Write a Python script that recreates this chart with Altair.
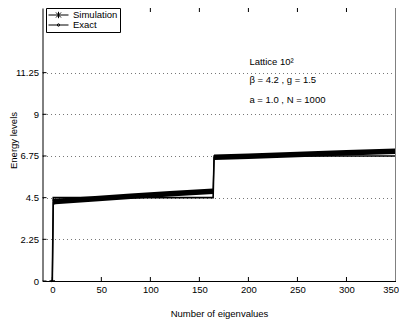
import altair as alt
import pandas as pd

# ---------------- data ----------------
series_names = ["Simulation", "Exact"]

sim_x = [0, 1, 3, 40, 80, 120, 164, 165, 200, 250, 300, 350]
sim_y = [0.0, 4.25, 4.29, 4.43, 4.57, 4.71, 4.85, 6.68, 6.74, 6.83, 6.92, 7.00]

exact_x = [0, 1, 164, 165, 350]
exact_y = [0.0, 4.5, 4.5, 6.75, 6.75]

x_ticks = [0, 50, 100, 150, 200, 250, 300, 350]
y_ticks = [0, 2.25, 4.5, 6.75, 9, 11.25]

x_range = [-10, 350]
y_range = [0, 14.74]

ann_x = [201, 201, 201]
ann_y = [11.85, 10.83, 9.77]
ann_text = ["Lattice 10²", "β = 4.2 , g = 1.5", "a = 1.0 , N = 1000"]

last_low_index = 164

# ---------------- styling ----------------
FONT = "Liberation Sans"
FS = 9.5
W, H = 353, 273
TICK = 4

sim_df = pd.DataFrame({"x": sim_x, "y": sim_y})
sim_df["segment"] = ["low" if v <= last_low_index else "high" for v in sim_x]
band_df = sim_df[sim_df["x"] > 0]
exact_df = pd.DataFrame({"x": exact_x, "y": exact_y})
xt_df = pd.DataFrame({"x": x_ticks})
yt_df = pd.DataFrame({"y": y_ticks})
ann_df = pd.DataFrame({"x": ann_x, "y": ann_y, "label": ann_text})
leg_df = pd.DataFrame({"series": series_names, "x": [sim_x[0], exact_x[0]], "y": [sim_y[0], exact_y[0]]})
edge_df = pd.DataFrame({"x": [x_range[1]]})

xs = alt.Scale(domain=x_range, nice=False, zero=False)
ys = alt.Scale(domain=y_range, nice=False, zero=False)

X = alt.X("x:Q", scale=xs, axis=alt.Axis(
    title="Number of eigenvalues", values=x_ticks, labelExpr="'' + datum.value", ticks=False,
    grid=False, labelFlush=1, labelFlushOffset=3, labelPadding=3, domainColor="black",
    titleBaseline="middle", titleY=32))
Y = alt.Y("y:Q", scale=ys, axis=alt.Axis(
    title="Energy levels", values=y_ticks, labelExpr="'' + datum.value", ticks=False,
    grid=True, gridDash=[1, 3], gridColor="#777777", labelPadding=4,
    domainColor="black", titleBaseline="top", titleAngle=-90, titleX=-34, titleY=132))

exact_line = alt.Chart(exact_df).mark_line(color="black", strokeWidth=1.6).encode(x=X, y=Y)
sim_thin = alt.Chart(sim_df).mark_line(color="black", strokeWidth=1.2).encode(x=X, y=Y)
sim_band = alt.Chart(band_df).mark_line(color="black", strokeWidth=5.5).encode(
    x=X, y=Y, detail="segment:N")

top_ticks = alt.Chart(xt_df).mark_rule(color="black").encode(x=X, y=alt.value(0), y2=alt.value(TICK))
bot_ticks = alt.Chart(xt_df).mark_rule(color="black").encode(x=X, y=alt.value(H), y2=alt.value(H - TICK))
left_ticks = alt.Chart(yt_df).mark_rule(color="black").encode(y=Y, x=alt.value(0), x2=alt.value(TICK))
right_edge = alt.Chart(edge_df).mark_rule(color="#808080").encode(x=X)

ann = alt.Chart(ann_df).mark_text(align="left", baseline="middle", font=FONT, fontSize=FS, color="black").encode(
    x=X, y=Y, text="label:N")

sim_path = "M-1,0H1M-0.25,-0.25L0.25,0.25M-0.25,0.25L0.25,-0.25M0,-0.32V0.32"
exact_path = "M-1,0H1M-0.12,0A0.12,0.12,0,1,0,0.12,0A0.12,0.12,0,1,0,-0.12,0"

pts = alt.Chart(leg_df).mark_point(filled=False, size=30, color="black", opacity=1, strokeWidth=1).encode(
    x=X, y=Y,
    shape=alt.Shape("series:N",
                    scale=alt.Scale(domain=series_names, range=[sim_path, exact_path]),
                    legend=alt.Legend(title=None, orient="none", legendX=3.5, legendY=0,
                                      symbolSize=400, clipHeight=10, labelOffset=4, padding=2,
                                      rowPadding=0, strokeColor="black", fillColor="white",
                                      labelFont=FONT, labelFontSize=FS, labelColor="black",
                                      symbolStrokeWidth=1)))

chart = alt.layer(
    exact_line, sim_thin, sim_band, top_ticks, bot_ticks, left_ticks, right_edge, ann, pts
).properties(
    width=W, height=H,
    autosize=alt.AutoSizeParams(type="none"),
    padding={"left": 34.5, "top": 0, "right": 3.5, "bottom": 38},
).configure(font=FONT).configure_view(stroke=None).configure_axis(
    labelFont=FONT, labelFontSize=FS, labelColor="black",
    titleFont=FONT, titleFontSize=FS, titleColor="black", titleFontWeight="normal",
    domainWidth=1,
)

chart.save("out.html", embed_options={"renderer": "svg", "actions": False})
